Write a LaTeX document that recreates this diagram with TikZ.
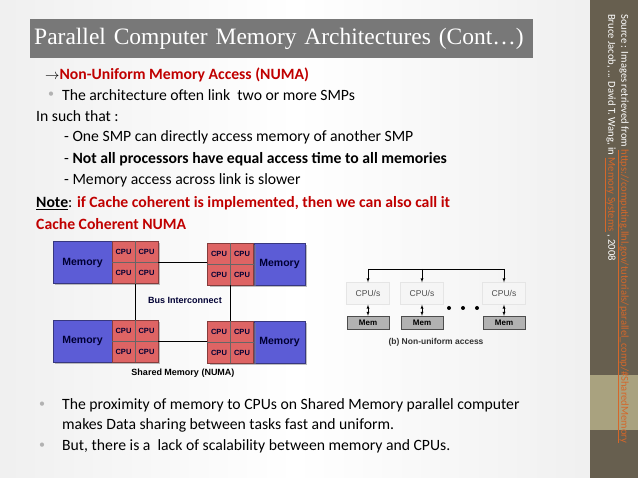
\documentclass[tikz,border=0pt]{standalone}
\usepackage{fontspec}
\setmainfont{Carlito}
\newfontfamily\titlefont{Liberation Serif}
\newfontfamily\figfont{Liberation Sans}
\usepackage{tikz}
\usetikzlibrary{positioning,shadows}
\definecolor{memblue}{HTML}{5C5CD6}
\definecolor{cpured}{HTML}{DE6464}
\definecolor{darkred}{HTML}{C00000}
\definecolor{stripbrown}{HTML}{675F4F}
\definecolor{stripband}{HTML}{A9A27F}
\definecolor{linkorange}{HTML}{D4672A}
\definecolor{titlegray}{HTML}{787878}
\begin{document}
\begin{tikzpicture}[x=1pt,y=-1pt,>=latex,
  txt/.style={anchor=west,inner sep=0pt,font=\fontsize{15.7}{17}\selectfont},
  bul/.style={anchor=center,inner sep=0pt,text=gray!60,font=\fontsize{12}{13}\selectfont},
  memblk/.style={fill=memblue,draw=memblue!60!black,minimum height=42,inner sep=0pt,
    font=\figfont\bfseries\fontsize{10.5}{11}\selectfont,text=black!80!blue,drop shadow={shadow xshift=2pt,shadow yshift=-2pt}},
  cpublk/.style={fill=cpured,draw=cpured!60!black,minimum width=46,minimum height=42,inner sep=0pt,
    drop shadow={shadow xshift=2pt,shadow yshift=-2pt}},
  cpulbl/.style={font=\figfont\bfseries\fontsize{7.5}{8}\selectfont,text=black!80!blue,inner sep=0pt},
  cpus/.style={fill=gray!8,draw=gray!20,minimum width=43,minimum height=22,inner sep=0pt,
    font=\figfont\fontsize{8.5}{9}\selectfont,text=black!70},
  mem/.style={fill=gray!60,draw=black!70,minimum width=42,minimum height=13,inner sep=0pt,
    font=\figfont\bfseries\fontsize{8}{9}\selectfont},
  dot/.style={circle,fill=black,inner sep=0pt,minimum size=4},
  src/.style={rotate=-90,anchor=north west,inner sep=0pt,text=white,font=\fontsize{10.6}{11}\selectfont}]
% background and side strip
\useasboundingbox (0,0) rectangle (638,478);
\shade[left color=gray!12,right color=gray!12,middle color=white] (0,0) rectangle (590,478);
\fill[stripbrown] (590,0) rectangle (638,478);
\fill[stripband] (590,375) rectangle (638,430);
\node[src] (source) at (629,14) {Source : Images retrieved from \textcolor{linkorange}{\underline{https://computing.llnl.gov/tutorials/parallel\_comp/\#SharedMemory}}};
\node[src] (book) at (616,14) {Bruce Jacob, ... David T. Wang, in \textcolor{linkorange}{\underline{Memory Systems}} , 2008};
% title
\node[fill=titlegray,text=white,anchor=north west,minimum width=503,minimum height=39,inner sep=0pt,
  text width=495,align=left,font=\titlefont\fontsize{23.5}{25}\selectfont] (title) at (30,19) {Parallel Computer Memory Architectures (Cont\ldots)};
% text
\node[txt,text=darkred,font=\bfseries\fontsize{15.7}{17}\selectfont] (numa) at (45,75) {\textcolor{black}{$\rightarrow$}Non-Uniform Memory Access (NUMA)};
\node[bul] (bu1) at (51,95) {\textbullet};
\node[txt] (b1) at (62,95) {The architecture often link\ \ two or more SMPs};
\node[txt] (such) at (36,116) {In such that :};
\node[txt] (l1) at (64,137) {- One SMP can directly access memory of another SMP};
\node[txt] (l2) at (64,159) {- \textbf{Not all processors have equal access time to all memories}};
\node[txt] (l3) at (64,180) {- Memory access across link is slower};
\node[txt] (note) at (36,203) {\textbf{\underline{Note}}: \textcolor{darkred}{\textbf{if Cache coherent is implemented, then we can also call it}}};
\node[txt,text=darkred,font=\bfseries\fontsize{15.7}{17}\selectfont] (ccnuma) at (36,224) {Cache Coherent NUMA};
\node[bul] (bu2) at (42,405) {\textbullet};
\node[txt] (b2) at (62,405) {The proximity of memory to CPUs on Shared Memory parallel computer};
\node[txt] (b2b) at (62,425) {makes Data sharing between tasks fast and uniform.};
\node[bul] (bu3) at (42,446) {\textbullet};
\node[txt] (b3) at (62,446) {But, there is a\ \ lack of scalability between memory and CPUs.};
% left figure: shared memory NUMA
\node[memblk,minimum width=59] (tlm) at (82.5,262.5) {Memory};
\node[cpublk] (tlc) at (135,262.5) {};
\node[memblk,minimum width=51] (trm) at (279.5,264) {Memory};
\node[cpublk] (trc) at (230.5,264) {};
\node[memblk,minimum width=59] (blm) at (82.5,341) {Memory};
\node[cpublk] (blc) at (135,341) {};
\node[memblk,minimum width=51] (brm) at (279.5,342) {Memory};
\node[cpublk] (brc) at (230.5,342) {};
\foreach \c in {tlc,trc,blc,brc}{
  \draw[black!60] (\c.north) -- (\c.south) (\c.west) -- (\c.east);
  \node[cpulbl] at ([xshift=-11.5,yshift=10.5]\c.center) {CPU};
  \node[cpulbl] at ([xshift=11.5,yshift=10.5]\c.center) {CPU};
  \node[cpulbl] at ([xshift=-11.5,yshift=-10.5]\c.center) {CPU};
  \node[cpulbl] at ([xshift=11.5,yshift=-10.5]\c.center) {CPU};
}
\draw[thick] (tlc.east) -- (tlc.east -| trc.west);
\draw[thick] (blc.east) -- (blc.east -| brc.west);
\draw[thick] (tlc.south) -- (blc.north);
\draw[thick] (trc.south) -- (brc.north);
\node[cpulbl,font=\figfont\bfseries\fontsize{9}{10}\selectfont] (bus) at (185,300) {Bus Interconnect};
\node[cpulbl,font=\figfont\bfseries\fontsize{9}{10}\selectfont,text=black] (smnuma) at (183,373) {Shared Memory (NUMA)};
% right figure: non-uniform access
\node[cpus] (c1) at (368,293.5) {CPU/s};
\node[cpus] (c2) at (422,293.5) {CPU/s};
\node[cpus] (c3) at (504,293.5) {CPU/s};
\node[mem] (m1) at (368,322.5) {Mem};
\node[mem] (m2) at (422,322.5) {Mem};
\node[mem] (m3) at (504,322.5) {Mem};
\coordinate (bl) at (368,269);
\coordinate (br) at (504,269);
\draw (bl) -- (br);
\foreach \c in {c1,c2,c3}
  \draw[->] (\c.north |- bl) -- (\c.north);
\foreach \i in {1,2,3}
  \draw[<->] (c\i.south) -- (m\i.north);
\node[dot] (d1) at (449,308) {};
\node[dot] (d2) at (463,308) {};
\node[dot] (d3) at (477,308) {};
\node[cpulbl,font=\figfont\bfseries\fontsize{8.5}{9}\selectfont,text=black!80] (nua) at (436,342) {(b) Non-uniform access};
\end{tikzpicture}
\end{document}
